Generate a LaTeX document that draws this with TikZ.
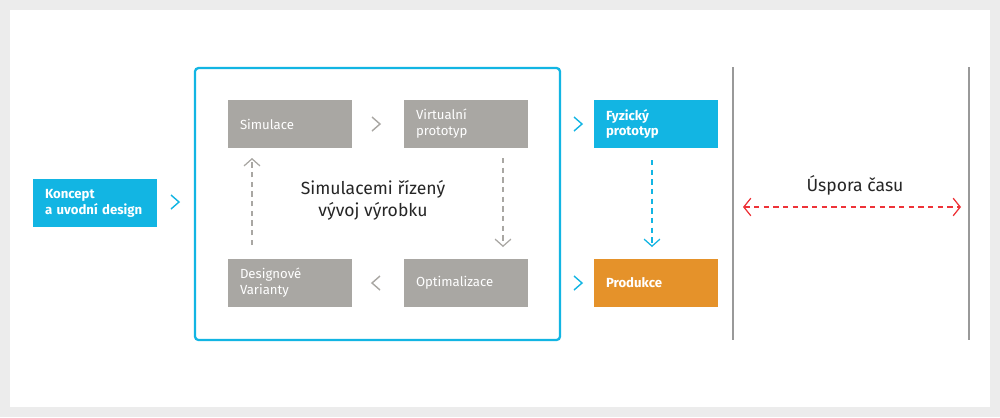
\documentclass[tikz,border=0pt]{standalone}
\usepackage{fontspec}
\setmainfont{Fira Sans}
\usetikzlibrary{positioning,calc,arrows.meta}
\definecolor{cyanb}{HTML}{12B5E3}
\definecolor{grayb}{HTML}{A9A7A3}
\definecolor{orangeb}{HTML}{E5922A}
\definecolor{redd}{HTML}{EE3338}
\tikzset{
  box/.style={minimum width=2.48cm, minimum height=0.96cm, text width=2.0cm,
    align=left, font=\fontsize{7.5}{9}\selectfont\bfseries, text=white, inner sep=0pt},
  gbox/.style={box, fill=grayb, font=\fontsize{7.5}{9}\selectfont},
  cbox/.style={box, fill=cyanb},
  obox/.style={box, fill=orangeb},
  dashline/.style={dash pattern=on 3pt off 2.5pt, line width=0.7pt,
    -{Straight Barb[length=4pt,width=9pt]}},
}
% chevron mark at a point
\newcommand{\chev}[3]{\draw[#1, line width=0.8pt] ($(#2)+(-4*#3,-7)$) -- ($(#2)+(4*#3,0)$) -- ($(#2)+(-4*#3,7)$);}
\begin{document}
\begin{tikzpicture}[x=0.02cm,y=-0.02cm]
    \useasboundingbox (0,0) rectangle (1000,417);
    \fill[gray!15] (0,0) rectangle (1000,417);
    \fill[white] (10,10) rectangle (990,407);

    % boxes
    \node[cbox] (konc) at (95,203) {Koncept\\a uvodní design};
    \draw[cyanb, line width=1.3pt, rounded corners=2pt] (195,68) rectangle (560,340);
    \node[gbox] (sim) at (290,124) {Simulace};
    \node[gbox] (virt) at (466,124) {Virtualní\\prototyp};
    \node[gbox] (var) at (290,283) {Designové\\Varianty};
    \node[gbox] (opt) at (466,283) {Optimalizace};
    \node[cbox] (fyz) at (656,124) {Fyzický\\prototyp};
    \node[obox] (prod) at (656,283) {Produkce};
    \node[align=center, font=\fontsize{10}{12.5}\selectfont, text=black!85] (mid) at (373,200)
        {Simulacemi řízený\\vývoj výrobku};

    % chevrons
    \coordinate (c1) at (175,202); \chev{cyanb}{c1}{1}
    \coordinate (c2) at (376,124); \chev{grayb}{c2}{1}
    \coordinate (c3) at (376,283); \chev{grayb}{c3}{-1}
    \coordinate (c4) at (578,124); \chev{cyanb}{c4}{1}
    \coordinate (c5) at (578,283); \chev{cyanb}{c5}{1}

    % dashed connectors
    \coordinate (up0) at (252,245);  \coordinate (up1) at (252,158);
    \coordinate (dn0) at (503,158);  \coordinate (dn1) at (503,247);
    \coordinate (fp0) at (652,160);  \coordinate (fp1) at (652,247);
    \draw[grayb, dashline] (up0) -- (up1);
    \draw[grayb, dashline] (dn0) -- (dn1);
    \draw[cyanb, dashline] (fp0) -- (fp1);

    % time saving
    \draw[gray!80, line width=1.6pt] (733,67) -- (733,340);
    \draw[gray!80, line width=1.6pt] (969,67) -- (969,340);
    \node[font=\fontsize{10}{12}\selectfont, text=black!85] (usp) at (855,185) {Úspora času};
    \coordinate (la) at (743,207);
    \coordinate (ra) at (961,207);
    \draw[redd, dashline, {Straight Barb[length=4pt,width=10pt]}-{Straight Barb[length=4pt,width=10pt]}]
        (la) -- (ra);
\end{tikzpicture}
\end{document}
